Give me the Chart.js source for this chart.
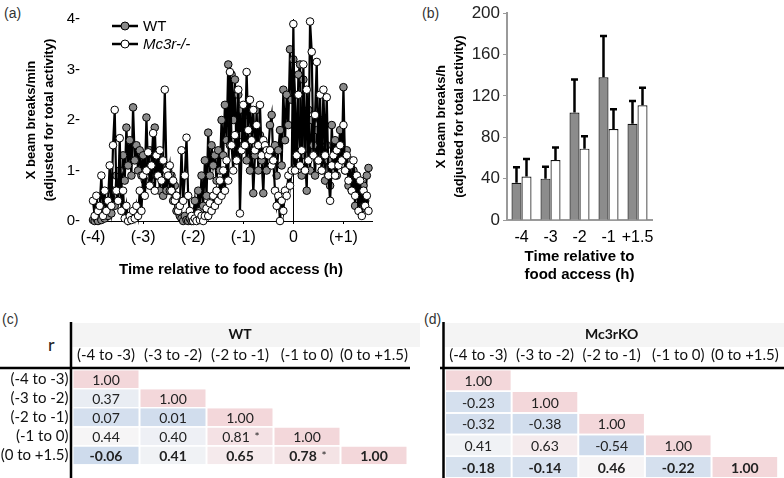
<!DOCTYPE html>
<html>
<head>
<meta charset="utf-8">
<script src="https://cdn.jsdelivr.net/npm/chart.js@4.4.0/dist/chart.umd.min.js"></script>
<style>
  html, body { margin: 0; padding: 0; background: #fff; }
  body { width: 784px; height: 478px; position: relative; overflow: hidden;
         font-family: "Liberation Sans", Arial, sans-serif; }
  canvas { position: absolute; }
  .tag { position: absolute; font-size: 14px; color: #333; }
</style>
</head>
<body>
<div class="tag" style="left:4px;top:5px">(a)</div>
<div class="tag" style="left:422px;top:5px">(b)</div>
<div class="tag" style="left:2px;top:311px">(c)</div>
<div class="tag" style="left:424px;top:311px">(d)</div>
<div class="tag" style="left:48px;top:333px;font-family:Lato;font-size:18px;color:#222">r</div>

<canvas id="chartA" width="385" height="300" style="left:0;top:0"></canvas>
<canvas id="chartB" width="290" height="300" style="left:385px;top:0"></canvas>
<canvas id="tableC" width="420" height="168" style="left:0;top:310px"></canvas>
<canvas id="tableD" width="384" height="168" style="left:400px;top:310px"></canvas>

<script>
// ---- panel (a): activity, one sample every 2 min from -4 h ----
const startHour = -4;
const sampleMinutes = 2;
const wtActivity = [
  0.02, 0.0, 0.05, 0.0, 0.1, 0.02, 0.15, 0.05, 0.2, 0.1, 0.35, 0.15, 0.6, 0.3, 0.9,
  0.5, 1.0, 0.6, 1.3, 0.8, 1.85, 1.1, 1.6, 0.9, 2.25, 1.2, 1.5, 1.0, 1.4, 0.9,
  1.3, 0.8, 2.05, 1.0, 1.4, 0.7, 1.2, 1.85, 0.9, 1.3, 0.6, 1.1, 0.5, 0.9, 0.6,
  1.0, 0.6, 0.9, 0.4, 0.7, 0.2, 0.3, 0.1, 0.05, 0.0, 0.1, 0.02, 0.0, 0.05, 0.0,
  0.1, 0.4, 0.05, 0.6, 0.2, 0.9, 0.3, 1.2, 0.5, 1.75, 0.9, 1.5, 1.1, 1.3, 0.8,
  1.4, 1.0, 2.0, 1.3, 2.3, 1.6, 3.1, 1.5, 2.9, 2.0, 2.8, 1.2, 2.5, 1.7, 2.2,
  1.5, 2.1, 1.2, 1.8, 1.0, 1.6, 0.55, 1.3, 2.2, 1.0, 1.7, 1.2, 0.55, 1.5, 1.0,
  1.4, 1.9, 2.1, 1.2, 1.5, 0.9, 1.4, 1.8, 1.1, 2.6, 1.6, 2.5, 1.9, 3.4, 2.4,
  3.2, 2.5, 1.1, 2.9, 3.1, 0.9, 2.8, 1.3, 0.6, 2.2, 1.0, 2.0, 1.5, 0.9, 1.8,
  1.2, 2.0, 1.0, 1.6, 0.8, 1.5, 1.2, 0.7, 1.9, 1.1, 1.6, 0.9, 1.4, 1.8, 1.2,
  2.65, 1.0, 1.4, 0.7, 1.2, 0.6, 1.0, 0.3, 0.9, 0.5, 0.8, 0.25, 0.7, 0.4, 0.9,
  1.05
];
const koActivity = [
  0.4, 0.1, 0.5, 0.2, 0.3, 0.9, 0.1, 0.6, 0.2, 0.4, 1.1, 0.3, 1.5, 2.2, 0.6,
  0.4, 1.64, 0.2, 0.6, 0.05, 0.3, 0.0, 0.1, 0.02, 0.2, 0.05, 0.3, 0.1, 0.6, 0.2,
  0.9, 0.5, 1.0, 1.36, 0.7, 1.1, 1.74, 0.6, 1.3, 0.9, 1.4, 0.8, 1.2, 2.6, 1.0,
  0.9, 1.1, 0.6, 0.8, 0.4, 0.5, 0.2, 0.3, 1.4, 0.4, 0.9, 1.65, 0.5, 0.2, 0.1,
  0.0, 0.05, 0.0, 0.15, 0.02, 0.1, 0.0, 0.1, 0.25, 0.1, 0.35, 0.2, 0.5, 0.3, 0.6,
  0.4, 0.8, 0.5, 1.0, 0.6, 1.2, 0.8, 2.95, 1.5, 1.0, 1.7, 1.2, 2.6, 0.15, 1.4,
  2.3, 1.5, 2.95, 1.8, 2.4, 1.6, 2.2, 1.4, 1.9, 1.5, 2.3, 1.3, 1.6, 1.5, 1.4,
  1.3, 1.4, 1.1, 1.2, 0.6, 0.3, 0.5, 0.0, 0.4, 0.2, 0.6, 0.5, 0.9, 0.7, 1.0,
  3.9, 1.0, 1.3, 2.5, 1.1, 1.4, 3.1, 1.0, 2.6, 1.2, 3.95, 3.35, 1.3, 2.1, 3.15,
  1.2, 2.5, 1.0, 2.6, 1.3, 2.45, 0.9, 0.4, 1.1, 1.3, 0.9, 1.4, 1.1, 1.5, 1.2,
  1.9, 1.0, 1.3, 0.8, 1.1, 0.6, 1.2, 0.5, 0.9, 0.2, 0.8, 0.1, 0.6, 0.3, 0.5,
  0.2
];
const hourTicks = [-4, -3, -2, -1, 0, 1];
const hourTickLabels = ["(-4)", "(-3)", "(-2)", "(-1)", "0", "(+1)"];

// ---- panel (b): hourly means and SEM ----
const periodLabels = ["-4", "-3", "-2", "-1", "+1.5"];
const wtHourly = [36, 40, 104, 138, 93];
const wtHourlySem = [15, 11.5, 32, 40, 22];
const koHourly = [42, 58, 69, 88, 111];
const koHourlySem = [17, 12, 12, 19, 17];

// ---- panels (c), (d): correlation matrices (lower triangle) ----
const periods = ["(-4 to -3)", "(-3 to -2)", "(-2 to -1)", "(-1 to 0)", "(0 to +1.5)"];
const wtCorr = [
  [1.00],
  [0.37, 1.00],
  [0.07, 0.01, 1.00],
  [0.44, 0.40, 0.81, 1.00],
  [-0.06, 0.41, 0.65, 0.78, 1.00]
];
const wtStars = [[3, 2], [4, 3]];
const koCorr = [
  [1.00],
  [-0.23, 1.00],
  [-0.32, -0.38, 1.00],
  [0.41, 0.63, -0.54, 1.00],
  [-0.18, -0.14, 0.46, -0.22, 1.00]
];
const koStars = [];

Chart.defaults.font.family = "'Liberation Sans', Arial, sans-serif";
Chart.defaults.color = "#000";

const toPoints = vals => vals.map((y, i) => ({ x: startHour + i * sampleMinutes / 60, y }));

// legend drawn as line + marker, like the original
const legendA = {
  id: "legendA",
  afterDraw(chart) {
    const ctx = chart.ctx;
    const items = [
      { text: "WT", fill: "#8a8a8a", italic: false },
      { text: "Mc3r-/-", fill: "#fff", italic: true }
    ];
    items.forEach((it, k) => {
      const y = 26 + k * 18;
      ctx.save();
      ctx.strokeStyle = "#000";
      ctx.lineWidth = 2.5;
      ctx.beginPath(); ctx.moveTo(112, y); ctx.lineTo(138, y); ctx.stroke();
      ctx.lineWidth = 1;
      ctx.fillStyle = it.fill;
      ctx.beginPath(); ctx.arc(125, y, 4, 0, Math.PI * 2); ctx.fill(); ctx.stroke();
      ctx.fillStyle = "#000";
      ctx.font = (it.italic ? "italic " : "") + "15px 'Liberation Sans', Arial";
      ctx.textBaseline = "middle";
      ctx.fillText(it.text, 143, y + 1);
      ctx.restore();
    });
  }
};

new Chart(document.getElementById("chartA"), {
  type: "line",
  data: {
    datasets: [
      {
        label: "Mc3r-/-", data: toPoints(koActivity),
        borderColor: "#000", borderWidth: 2.2, tension: 0, clip: false,
        pointRadius: 3.8, pointBackgroundColor: "#fff", pointBorderColor: "#000", pointBorderWidth: 1
      },
      {
        label: "WT", data: toPoints(wtActivity),
        borderColor: "#000", borderWidth: 2.2, tension: 0, clip: false,
        pointRadius: 3.8, pointBackgroundColor: "#8a8a8a", pointBorderColor: "#000", pointBorderWidth: 1
      }
    ]
  },
  options: {
    responsive: false,
    animation: false,
    layout: { padding: { top: 7, right: 13, left: 0, bottom: 0 } },
    plugins: { legend: { display: false }, tooltip: { enabled: false } },
    scales: {
      x: {
        type: "linear", min: -4.06, max: 1.57,
        afterBuildTicks: s => { s.ticks = hourTicks.map(v => ({ value: v })); },
        ticks: { callback: (v, i) => hourTickLabels[i], font: { size: 16 }, padding: 4, maxRotation: 0, autoSkip: false },
        grid: {
          color: c => (c.tick && c.tick.value === 0 ? "#000" : "rgba(0,0,0,0)"),
          tickColor: "#000", tickLength: 3, lineWidth: 1
        },
        border: { color: "#000", width: 1 },
        title: {
          display: true, text: "Time relative to food access (h)",
          font: { size: 15, weight: "bold" }, padding: { top: 0, bottom: 21 }
        },
        afterFit: s => { s.height = 79; }
      },
      y: {
        min: 0, max: 4,
        ticks: { stepSize: 1, callback: v => v + "-", font: { size: 15 }, padding: 10 },
        grid: { display: false, drawTicks: false },
        border: { display: false },
        title: {
          display: true, text: ["X beam breaks/min", "(adjusted for total activity)"],
          font: { size: 13, weight: "bold", lineHeight: 1.35 }, padding: { top: 23, bottom: 0 }
        },
        afterFit: s => { s.width = 90; }
      }
    }
  },
  plugins: [legendA]
});

// error bars above each bar
const errorBars = {
  id: "errorBars",
  afterDatasetsDraw(chart) {
    const { ctx } = chart;
    const y = chart.scales.y;
    chart.data.datasets.forEach((ds, di) => {
      chart.getDatasetMeta(di).data.forEach((bar, i) => {
        const top = y.getPixelForValue(ds.data[i] + ds.sem[i]);
        ctx.save();
        ctx.strokeStyle = "#000";
        ctx.lineWidth = 2.5;
        ctx.beginPath();
        ctx.moveTo(bar.x, bar.y);
        ctx.lineTo(bar.x, top);
        ctx.moveTo(bar.x - 3.5, top);
        ctx.lineTo(bar.x + 3.5, top);
        ctx.stroke();
        ctx.restore();
      });
    });
  }
};

new Chart(document.getElementById("chartB"), {
  type: "bar",
  data: {
    labels: periodLabels,
    datasets: [
      { label: "WT", data: wtHourly, sem: wtHourlySem, backgroundColor: "#8c8c8c", borderColor: "#111", borderWidth: 1.2 },
      { label: "Mc3r-/-", data: koHourly, sem: koHourlySem, backgroundColor: "#fff", borderColor: "#111", borderWidth: 1.2 }
    ]
  },
  options: {
    responsive: false,
    animation: false,
    layout: { padding: { top: 11, right: 23, left: 0, bottom: 0 } },
    plugins: { legend: { display: false }, tooltip: { enabled: false } },
    datasets: { bar: { categoryPercentage: 0.69, barPercentage: 1.0 } },
    scales: {
      x: {
        ticks: { font: { size: 16 }, padding: 8, maxRotation: 0, minRotation: 0, autoSkip: false },
        grid: { display: false, drawTicks: false },
        border: { color: "#9a9a9a", width: 2 },
        title: {
          display: true, text: ["Time relative to", "food access (h)"],
          font: { size: 15, weight: "bold" }, padding: { top: 0, bottom: 16 }
        },
        afterFit: s => { s.height = 80; }
      },
      y: {
        min: 0, max: 200,
        ticks: { stepSize: 20, callback: v => (v % 40 === 0 ? v : ""), font: { size: 17 }, color: "#222", padding: 3 },
        grid: { drawOnChartArea: false, tickColor: "#9a9a9a", tickLength: 4 },
        border: { color: "#9a9a9a", width: 2 },
        title: {
          display: true, text: ["X beam breaks/h", "(adjusted for total activity)"],
          font: { size: 13, weight: "bold", lineHeight: 1.35 }, padding: { top: 48, bottom: 0 }
        },
        afterFit: s => { s.width = 122; }
      }
    }
  },
  plugins: [errorBars]
});

// ---- correlation tables ----
function mix(a, b, t) {
  return "rgb(" + a.map((c, k) => Math.round(c + (b[k] - c) * t)).join(",") + ")";
}
function cellColor(v, lo, mid, hi) {
  const neutral = [246, 246, 247], pink = [243, 215, 218], blue = [206, 219, 236];
  if (v >= mid) return mix(neutral, pink, (v - mid) / (hi - mid));
  return mix(neutral, blue, Math.sqrt((mid - v) / (mid - lo)));
}

function makeTable(id, title, corr, stars, opts) {
  const flat = corr.flat();
  const lo = Math.min(...flat), hi = Math.max(...flat);
  const datasets = periods.map((p, j) => ({
    label: p,
    data: corr.map(row => (j < row.length ? [j, j + 1] : null)),
    backgroundColor: corr.map(row => (j < row.length ? cellColor(row[j], lo, opts.mid, hi) : "rgba(0,0,0,0)")),
    borderColor: "#fff",
    borderWidth: { left: 1, right: 1, top: 0, bottom: 0 },
    borderSkipped: false
  }));

  const deco = {
    id: "deco" + id,
    beforeDraw(chart) {
      const { ctx, chartArea } = chart;
      ctx.save();
      ctx.fillStyle = "#f4f4f4";
      ctx.fillRect(chartArea.left, 13, chart.width - chartArea.left, 24);
      ctx.restore();
    },
    afterDatasetsDraw(chart) {
      const { ctx } = chart;
      ctx.save();
      ctx.fillStyle = "#222";
      ctx.textAlign = "center";
      ctx.textBaseline = "middle";
      corr.forEach((row, i) => {
        row.forEach((v, j) => {
          const bar = chart.getDatasetMeta(j).data[i];
          const cx = (bar.x + bar.base) / 2;
          const starred = stars.some(s => s[0] === i && s[1] === j);
          ctx.font = (i === corr.length - 1 ? "bold " : "") + "14px Lato";
          ctx.fillText(v.toFixed(2), starred ? cx - 4 : cx, bar.y + 1);
          if (starred) {
            ctx.font = "12px Lato";
            ctx.fillText("*", cx + 17, bar.y + 1);
          }
        });
      });
      ctx.restore();
    },
    afterDraw(chart) {
      const { ctx, chartArea } = chart;
      ctx.save();
      ctx.strokeStyle = "#000";
      ctx.lineWidth = 2.5;
      ctx.beginPath();
      ctx.moveTo(chartArea.left - 1.5, 12);
      ctx.lineTo(chartArea.left - 1.5, chart.height);
      ctx.moveTo(opts.ruleStart, chartArea.top - 1.5);
      ctx.lineTo(opts.ruleEnd, chartArea.top - 1.5);
      ctx.stroke();
      ctx.restore();
    }
  };

  new Chart(document.getElementById(id), {
    type: "bar",
    data: { labels: periods, datasets },
    options: {
      responsive: false,
      animation: false,
      indexAxis: "y",
      layout: { padding: { top: 0, right: opts.padRight, left: 0, bottom: 0 } },
      plugins: { legend: { display: false }, tooltip: { enabled: false } },
      datasets: { bar: { grouped: false, categoryPercentage: 0.93, barPercentage: 1.0 } },
      scales: {
        x: {
          type: "linear", position: "top", min: 0, max: 5,
          afterBuildTicks: s => { s.ticks = periods.map((p, k) => ({ value: k + 0.5 })); },
          ticks: { callback: (v, k) => periods[k], font: { size: 15, family: "Lato" }, color: "#111", padding: 5, maxRotation: 0, autoSkip: false },
          grid: { display: false, drawTicks: false },
          border: { display: false },
          title: { display: true, text: title, font: { size: 14, weight: "bold", family: "Lato" }, color: "#111", padding: { top: 16, bottom: 0 } },
          afterFit: s => { s.height = 59.5; }
        },
        y: {
          ticks: { display: opts.rowLabels, font: { size: 15, family: "Lato" }, color: "#111", padding: 4, autoSkip: false },
          grid: { display: false, drawTicks: false },
          border: { display: false },
          afterFit: s => { s.width = opts.left; }
        }
      }
    },
    plugins: [deco]
  });
}

makeTable("tableC", "WT", wtCorr, wtStars, { mid: 0.42, left: 72.5, padRight: 12.5, rowLabels: true, ruleStart: 0, ruleEnd: 410 });
makeTable("tableD", "Mc3rKO", koCorr, koStars, { mid: 0.43, left: 45, padRight: 2, rowLabels: false, ruleStart: 40, ruleEnd: 384 });
</script>
</body>
</html>
